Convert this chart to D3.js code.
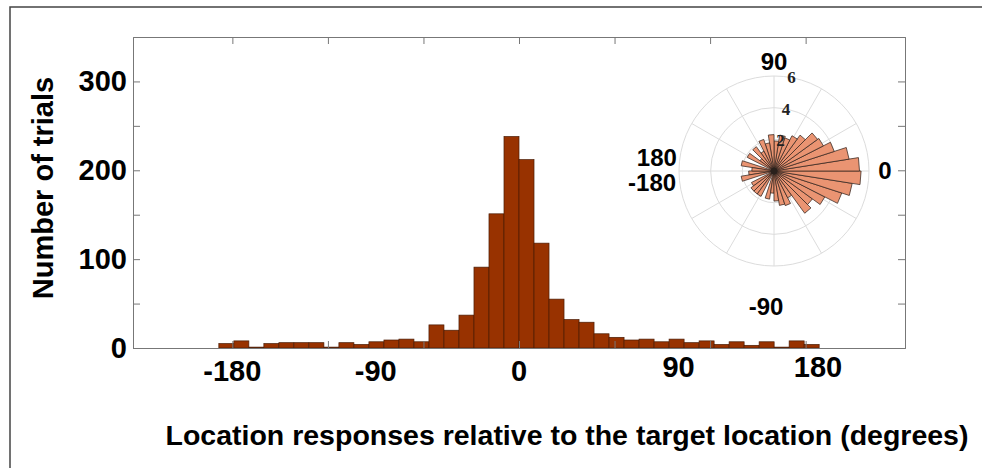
<!DOCTYPE html>
<meta charset="utf-8">
<script src="https://d3js.org/d3.v7.min.js"></script>
<style>
  body { margin: 0; background: #fff; }
  text { font-family: "Liberation Sans", Arial, sans-serif; font-weight: bold; }
</style>
<div id="my_dataviz"></div>
<script>

// histogram counts, 40 bins of 9 degrees from -180 to 180
const counts = [5, 8, 1, 5, 6, 6, 6, 1, 6, 4, 7, 9, 10, 7, 26, 20, 37, 91, 151, 238,
                212, 118, 55, 32, 29, 16, 12, 9, 10, 7, 10, 6, 8, 4, 7, 3, 7, 1, 8, 4];
// rose inset radii, same bins
const roseValues = [1.6, 2.1, 0, 1.6, 1.8, 1.8, 1.8, 0, 1.8, 1.4, 1.9, 2.2, 2.3, 1.9, 3.3, 3.0, 3.6, 4.5, 5.0, 5.5,
                    5.4, 4.8, 4.0, 3.5, 3.4, 2.8, 2.5, 2.2, 2.3, 1.9, 2.3, 1.8, 2.1, 1.4, 1.9, 1.1, 1.9, 0, 2.1, 1.4];
const yTicks = [0, 50, 100, 150, 200, 250, 300];
const yLabels = [0, 100, 200, 300];
const xTicks = [-3, -2, -1, 0, 1, 2, 3];           // radians
const xLabels = ["-180", "-90", "0", "90", "180"];
const xLabelPos = [-3, -1.5, 0, 1.67, 3.13];      // radians, where the text sits
const xLabelLift = [0, 0, 0, 4, 4];
const roseRings = [2, 4, 6];
const roseSpokes = d3.range(0, 360, 30);

const width = 982, height = 468;
const svg = d3.select("#my_dataviz").append("svg")
    .attr("width", width).attr("height", height);

svg.append("rect").attr("width", width).attr("height", height).attr("fill", "#fff");

// figure frame
svg.append("path")
    .attr("d", `M10,${height} L10,7 L${width},7`)
    .attr("fill", "none").attr("stroke", "#444").attr("stroke-width", 1.5);

const x = d3.scaleLinear().domain([-4.04, 4.04]).range([133, 905]);
const y = d3.scaleLinear().domain([0, 350]).range([348, 37]);

const nb = counts.length;
const edges = d3.range(nb + 1).map(i => -Math.PI + i * 2 * Math.PI / nb);

// bars
svg.append("g").selectAll("rect")
  .data(counts)
  .join("rect")
    .attr("x", (d, i) => x(edges[i]))
    .attr("width", (d, i) => x(edges[i + 1]) - x(edges[i]))
    .attr("y", d => y(d))
    .attr("height", d => y(0) - y(d))
    .attr("fill", "#983200")
    .attr("stroke", "#4a1c05")
    .attr("stroke-width", 0.7);

// axes box with inward ticks
const tickCol = "#777";
const gl = svg.append("g").attr("transform", `translate(${x.range()[0]},0)`)
    .call(d3.axisLeft(y).tickValues(yTicks).tickSize(-7).tickPadding(6)
      .tickFormat(d => yLabels.includes(d) ? d : ""));
const gr = svg.append("g").attr("transform", `translate(${x.range()[1]},0)`)
    .call(d3.axisRight(y).tickValues(yTicks).tickSize(-7).tickFormat(""));
const gt = svg.append("g").attr("transform", `translate(0,${y.range()[1]})`)
    .call(d3.axisTop(x).tickValues(xTicks).tickSize(-7).tickFormat(""));
const gb = svg.append("g").attr("transform", `translate(0,${y.range()[0]})`)
    .call(d3.axisBottom(x).tickValues(xTicks).tickSize(-7).tickFormat(""));
[gl, gr, gt, gb].forEach(g => {
  g.selectAll("path").attr("stroke", tickCol).attr("stroke-width", 1);
  g.selectAll("line").attr("stroke", tickCol);
});
gl.selectAll("text").attr("font-size", 29).attr("fill", "#000")
  .style("font-family", "'Liberation Sans', Arial, sans-serif").style("font-weight", "bold");

// x tick labels placed as text
svg.append("g").selectAll("text")
  .data(xLabels)
  .join("text")
    .attr("x", (d, i) => x(xLabelPos[i]))
    .attr("y", (d, i) => y(0) + 33 - xLabelLift[i])
    .attr("text-anchor", "middle")
    .attr("font-size", 29)
    .text(d => d);

// axis titles
svg.append("text")
    .attr("transform", "translate(53,188) rotate(-90)")
    .attr("text-anchor", "middle")
    .attr("font-size", 29)
    .text("Number of trials");

svg.append("text")
    .attr("x", 567).attr("y", 445)
    .attr("text-anchor", "middle")
    .attr("font-size", 28.5)
    .text("Location responses relative to the target location (degrees)");

// rose inset
const r = d3.scaleLinear().domain([0, 6]).range([0, 95]);
const rose = svg.append("g").attr("transform", "translate(774,171)");
const pt = (v, a) => [r(v) * Math.cos(a), -r(v) * Math.sin(a)];

rose.append("g").selectAll("circle")
  .data(roseRings)
  .join("circle")
    .attr("r", d => r(d))
    .attr("fill", "none").attr("stroke", "#dcdcdc").attr("stroke-width", 1);

rose.append("g").selectAll("line")
  .data(roseSpokes)
  .join("line")
    .attr("x2", d => pt(6, d * Math.PI / 180)[0])
    .attr("y2", d => pt(6, d * Math.PI / 180)[1])
    .attr("stroke", "#dcdcdc").attr("stroke-width", 1);

rose.append("g").selectAll("path")
  .data(roseValues)
  .join("path")
    .attr("d", (d, i) => {
      const p1 = pt(d, edges[i]), p2 = pt(d, edges[i + 1]);
      return `M0,0L${p1[0]},${p1[1]}L${p2[0]},${p2[1]}Z`;
    })
    .attr("fill", "#ea9472")
    .attr("stroke", "#35261f")
    .attr("stroke-width", 0.75);

rose.append("circle").attr("r", 3.5).attr("fill", "#2a211c");

rose.append("g").selectAll("text")
  .data(roseRings)
  .join("text")
    .attr("x", d => pt(d, 80 * Math.PI / 180)[0] + 1)
    .attr("y", d => pt(d, 80 * Math.PI / 180)[1] + 6)
    .attr("text-anchor", "middle")
    .attr("font-size", 17)
    .style("font-family", "'Liberation Serif', 'Times New Roman', serif")
    .attr("fill", "#222")
    .text(d => d);

// angle labels of the inset
const roseAngleLabels = [
  {t: "90", a: 90, d: 6.9},
  {t: "0", a: 0, d: 7.0},
  {t: "180", a: 180, d: 7.4, dy: -13},
  {t: "-180", a: 180, d: 7.7, dy: 12},
  {t: "-90", a: 270, d: 8.6, dx: -8}
];
rose.append("g").selectAll("text")
  .data(roseAngleLabels)
  .join("text")
    .attr("x", d => pt(d.d, d.a * Math.PI / 180)[0] + (d.dx || 0))
    .attr("y", d => pt(d.d, d.a * Math.PI / 180)[1] + (d.dy || 0) + 8)
    .attr("text-anchor", "middle")
    .attr("font-size", 24)
    .text(d => d.t);

</script>
